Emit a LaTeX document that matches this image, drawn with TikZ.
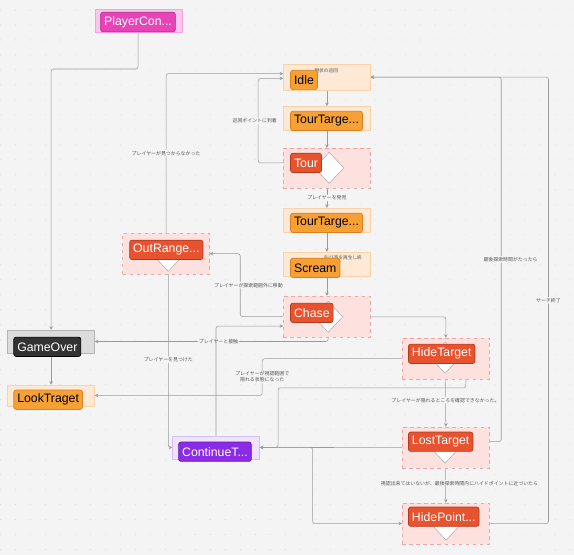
\documentclass[tikz,border=0pt]{standalone}
\usepackage{fontspec}
\setmainfont{Liberation Sans}
\newfontfamily\jpfont{Noto Sans CJK JP}
\usetikzlibrary{shapes.geometric,arrows.meta,positioning,backgrounds}

\definecolor{bgcol}{HTML}{F4F4F4}
\definecolor{pinkbg}{HTML}{F9C6EC}
\definecolor{pinkbd}{HTML}{F5A3E0}
\definecolor{magtag}{HTML}{E744B8}
\definecolor{magbd}{HTML}{B3238A}
\definecolor{orangebg}{HTML}{FDE9D6}
\definecolor{orangebd}{HTML}{F9D2A8}
\definecolor{orangetag}{HTML}{F7A035}
\definecolor{orangetagbd}{HTML}{D9801C}
\definecolor{redbg}{HTML}{FDE1DF}
\definecolor{redbd}{HTML}{F2A3A3}
\definecolor{redtag}{HTML}{E8532F}
\definecolor{redtagbd}{HTML}{B23A1E}
\definecolor{graybg}{HTML}{DCDCDC}
\definecolor{graybd}{HTML}{B5B5B5}
\definecolor{darktag}{HTML}{333333}
\definecolor{purplebg}{HTML}{EFE3FD}
\definecolor{purplebd}{HTML}{D6BEF8}
\definecolor{purpletag}{HTML}{8B2BE8}
\definecolor{purpletagbd}{HTML}{5E1AA6}
\definecolor{linecol}{HTML}{9A9A9A}
\definecolor{lblcol}{HTML}{555555}

\begin{document}
\begin{tikzpicture}[x=0.03cm, y=-0.03cm,
    box/.style={rectangle, anchor=north west, inner sep=0, minimum width=2.61cm, minimum height=0.72cm},
    tallbox/.style={box, minimum height=1.24cm},
    tag/.style={rectangle, rounded corners=2pt, anchor=north west, inner xsep=3pt, inner ysep=0pt,
        minimum height=0.58cm, font=\fontsize{10.5}{12.5}\selectfont, text=white, line width=0.6pt},
    dia/.style={diamond, draw=gray!70, fill=white, inner sep=0, minimum width=0.88cm, minimum height=0.94cm},
    edge/.style={draw=linecol, line width=0.45pt, rounded corners=2pt, -{Stealth[length=3pt,width=3pt]}},
    lbl/.style={font=\jpfont\fontsize{4.2}{5.2}\selectfont, text=lblcol, fill=bgcol, inner sep=0.8pt, align=center},
    note/.style={font=\jpfont\fontsize{4}{5}\selectfont, text=lblcol, inner sep=0pt, anchor=north east}]

    % PlayerController
    \node[box, fill=pinkbg, draw=pinkbd, minimum height=0.69cm] (playerbox) at (95,9) {};
    \node[tag, fill=magtag, draw=magbd] (playercon) at (100,12) {PlayerCon...};

    % tour states
    \node[box, fill=orangebg, draw=orangebd, minimum height=0.78cm] (idlebox) at (283,64) {};
    \node[note] at (338,68) {現状の巡回};
    \node[tag, fill=orangetag, draw=orangetagbd, text=black] (idle) at (290,70) {Idle};

    \node[box, fill=orangebg, draw=orangebd] (tourtargetbox) at (283,106) {};
    \node[tag, fill=orangetag, draw=orangetagbd, text=black] (tourtarget) at (290,111) {TourTarge...};

    \node[tallbox, fill=redbg, draw=redbd, dashed, minimum height=1.2cm] (tourbox) at (283,148) {};
    \node[dia] (tourd) at (329,168) {};
    \node[tag, fill=redtag, draw=redtagbd] (tour) at (290,153) {Tour};

    \node[box, fill=orangebg, draw=orangebd] (tourtarget2box) at (283,208) {};
    \node[tag, fill=orangetag, draw=orangetagbd, text=black] (tourtarget2) at (290,213) {TourTarge...};

    \node[box, fill=orangebg, draw=orangebd] (screambox) at (283,252) {};
    \node[note] at (362,255) {叫び声を再生し終};
    \node[tag, fill=orangetag, draw=orangetagbd, text=black] (scream) at (290,258) {Scream};

    % chase states
    \node[tallbox, fill=redbg, draw=redbd, dashed] (outrangebox) at (122,233) {};
    \node[dia] (outranged) at (168,256) {};
    \node[tag, fill=redtag, draw=redtagbd] (outrange) at (129,240) {OutRange...};

    \node[tallbox, fill=redbg, draw=redbd, dashed] (chasebox) at (283,296) {};
    \node[dia] (chased) at (328,317) {};
    \node[tag, fill=redtag, draw=redtagbd] (chase) at (290,303) {Chase};

    \node[box, fill=graybg, draw=graybd, minimum height=0.69cm] (gameoverbox) at (7,330) {};
    \node[tag, fill=darktag, draw=black] (gameover) at (13,337) {GameOver};

    \node[tallbox, fill=redbg, draw=redbd, dashed] (hidetargetbox) at (402,338) {};
    \node[dia] (hidetargetd) at (445,358) {};
    \node[tag, fill=redtag, draw=redtagbd] (hidetarget) at (408,344) {HideTarget};

    \node[box, fill=orangebg, draw=orangebd, minimum height=0.63cm] (looktragetbox) at (7,385) {};
    \node[tag, fill=orangetag, draw=orangetagbd, text=black] (looktraget) at (13,390) {LookTraget};

    \node[box, fill=purplebg, draw=purplebd, minimum height=0.69cm] (continuebox) at (172,436) {};
    \node[tag, fill=purpletag, draw=purpletagbd] (continue) at (178,442) {ContinueT...};

    \node[tallbox, fill=redbg, draw=redbd, dashed] (losttargetbox) at (402,427) {};
    \node[dia] (losttargetd) at (445,448) {};
    \node[tag, fill=redtag, draw=redtagbd] (losttarget) at (408,432) {LostTarget};

    \node[tallbox, fill=redbg, draw=redbd, dashed] (hidepointbox) at (402,503) {};
    \node[dia] (hidepointd) at (446,525) {};
    \node[tag, fill=redtag, draw=redtagbd] (hidepoint) at (408,507) {HidePoint...};

    \begin{scope}[on background layer]
    % background with dots
    \fill[bgcol] (0,0) rectangle (574,555);
    \foreach \i in {0,...,38} {
        \foreach \j in {0,...,36} {
            \fill[gray!40] (\i*15,10+\j*15) circle (0.35pt);
        }
    }
    % connectors
    \draw[edge] (playercon.south) -- ++(0,37) -| (gameoverbox.north);
    \draw[edge] (gameoverbox.south) -- (looktragetbox.north);
    \draw[edge] (outrangebox.north) |- node[pos=0.25, lbl] {プレイヤーが見つからなかった} ([yshift=3pt]idlebox.west);
    \draw[edge] (tour.west) -- ++(-32,0) |- node[pos=0.25, lbl, xshift=-3pt] {巡回ポイントに到着} ([yshift=-1pt]idlebox.west);
    \draw[edge] (idlebox.south) -- (tourtargetbox.north);
    \draw[edge] (tourtargetbox.south) -- (tourbox.north);
    \draw[edge] (tourbox.south) -- node[lbl] {プレイヤーを発見} (tourtarget2box.north);
    \draw[edge] (tourtarget2box.south) -- (screambox.north);
    \draw[edge] (screambox.south) -- (chasebox.north);
    \draw[edge] (chasebox.west) -- ++(-43,0) |- node[pos=0.25, lbl, xshift=7pt] {プレイヤーが探索範囲外に移動} (outrangebox.east);
    \draw[edge] (chased.south) |- node[pos=0.735, lbl] {プレイヤーと接触} (gameoverbox.east);
    \draw[edge] (chased.east) -| (hidetargetbox.north);
    \draw[edge] (outranged.south) |- node[pos=0.25, lbl] {プレイヤーを見つけた} (continuebox.west);
    \draw[edge] (continuebox.north) |- ([yshift=-8pt]chasebox.west);
    \draw[edge] (hidetargetbox.west) -- ++(-140,0) |- node[pos=0.25, lbl] {プレイヤーが視認範囲で\\隠れる状態になった} (looktragetbox.east);
    \draw[edge] (hidetargetd.south) -- node[lbl] {プレイヤーが隠れるところを確認できなかった。} (losttargetbox.north);
    \draw[edge] ([xshift=-8pt]hidetarget.south east) -- ++(0,24) -- ++(-188,0) |- (continuebox.east);
    \draw[edge] (losttargetbox.west) -- (continuebox.east);
    \draw[edge] (losttarget.east) -- ++(28,0) |- node[pos=0.25, lbl, xshift=8pt] {最後探索時間がたったら} (idlebox.east);
    \draw[edge] (hidepointbox.east) -- ++(59,0) |- node[pos=0.25, lbl] {サーチ終了} (idlebox.east);
    \draw[edge] (losttargetd.south) -- node[lbl, xshift=12pt] {視認出来てはいないが、最後探索時間内にハイドポイントに近づいたら} (hidepointbox.north);
    \draw[edge] (continuebox.east) -- ++(53,0) |- (hidepointbox.west);
    \end{scope}
\end{tikzpicture}
\end{document}
